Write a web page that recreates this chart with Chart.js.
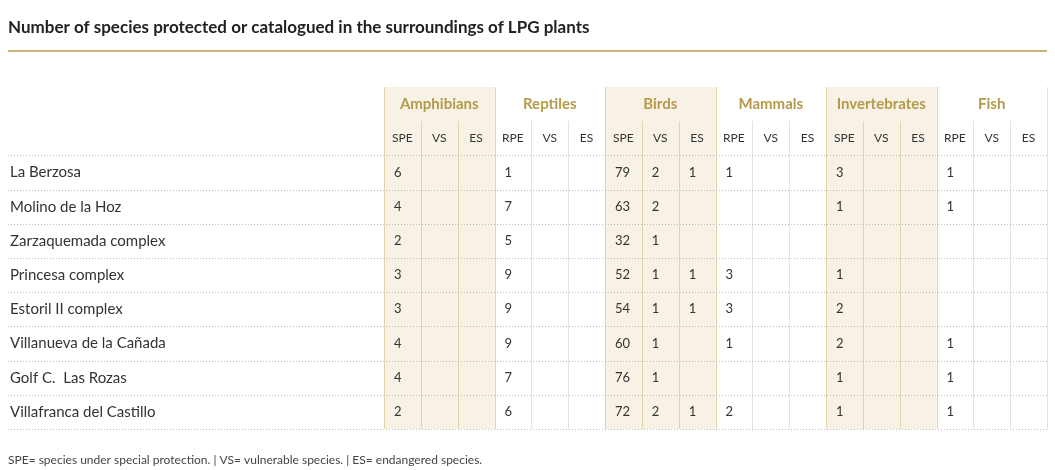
<!DOCTYPE html>
<html><head><meta charset="utf-8">
<script src="https://cdn.jsdelivr.net/npm/chart.js@4/dist/chart.umd.min.js"></script>
<style>body{margin:0;background:#fff}</style>
</head><body>
<canvas id="myChart" width="1055" height="470"></canvas>
<script>
const title = 'Number of species protected or catalogued in the surroundings of LPG plants';
const footnote = 'SPE= species under special protection. | VS= vulnerable species. | ES= endangered species.';
const groups = ['Amphibians', 'Reptiles', 'Birds', 'Mammals', 'Invertebrates', 'Fish'];
const shadedGroups = [true, false, true, false, true, false];
const subLabels = ['SPE','VS','ES','RPE','VS','ES','SPE','VS','ES','RPE','VS','ES','SPE','VS','ES','RPE','VS','ES'];
const places = ['La Berzosa', 'Molino de la Hoz', 'Zarzaquemada complex', 'Princesa complex', 'Estoril II complex', 'Villanueva de la Cañada', 'Golf C.  Las Rozas', 'Villafranca del Castillo'];
const values = [
  ['6','','', '1','','', '79','2','1', '1','','', '3','','', '1','',''],
  ['4','','', '7','','', '63','2','',  '','','',  '1','','', '1','',''],
  ['2','','', '5','','', '32','1','',  '','','',  '','','',  '','',''],
  ['3','','', '9','','', '52','1','1', '3','','', '1','','', '','',''],
  ['3','','', '9','','', '54','1','1', '3','','', '2','','', '','',''],
  ['4','','', '9','','', '60','1','',  '1','','', '2','','', '1','',''],
  ['4','','', '7','','', '76','1','',  '','','',  '1','','', '1','',''],
  ['2','','', '6','','', '72','2','1', '2','','', '1','','', '1','','']
];

const gold = '#b59a4a';
const shade = '#f8f2e6';
const textCol = '#333';
const font = 'Lato, "Open Sans", sans-serif';

const tablePlugin = {
  id: 'table',
  afterDraw(chart) {
    const c = chart.ctx, x = chart.scales.x, y = chart.scales.y;
    const X = i => x.getPixelForValue(i), Y = j => y.getPixelForValue(j);
    c.save();
    // title + rule
    c.fillStyle = '#222'; c.font = 'bold 17px ' + font; c.textBaseline = 'middle'; c.textAlign = 'left';
    c.fillText(title, 8, 28);
    c.strokeStyle = gold; c.lineWidth = 1.5;
    c.beginPath(); c.moveTo(8, 51); c.lineTo(1047, 51); c.stroke();
    // shaded groups
    groups.forEach((g, k) => {
      if (!shadedGroups[k]) return;
      c.fillStyle = shade;
      c.fillRect(X(k*3), Y(0), X(k*3+3) - X(k*3), Y(10) - Y(0));
    });
    // vertical lines
    c.lineWidth = 1;
    for (let i = 0; i <= 18; i++) {
      const g = Math.min(Math.floor(i/3), 5);
      const edge = i % 3 === 0;
      const inShade = shadedGroups[g] || (edge && i > 0 && shadedGroups[Math.floor((i-1)/3)]);
      c.strokeStyle = inShade ? '#e2d3a8' : '#e4e4e4';
      const top = edge ? Y(0) : Y(1);
      c.beginPath(); c.moveTo(Math.round(X(i)) + 0.5, top); c.lineTo(Math.round(X(i)) + 0.5, Y(10)); c.stroke();
    }
    // horizontal dotted lines
    c.setLineDash([1, 2]); c.strokeStyle = '#bbb';
    for (let j = 2; j <= 10; j++) {
      const yy = Math.round(Y(j)) + 0.5;
      c.beginPath(); c.moveTo(8, yy); c.lineTo(1047, yy); c.stroke();
    }
    c.setLineDash([]);
    // group headers
    c.textAlign = 'center'; c.font = 'bold 15px ' + font; c.fillStyle = gold;
    groups.forEach((g, k) => c.fillText(g, (X(k*3) + X(k*3+3)) / 2, (Y(0) + Y(1)) / 2));
    // sub labels
    c.font = '12px ' + font; c.fillStyle = textCol;
    subLabels.forEach((s, i) => c.fillText(s, (X(i) + X(i+1)) / 2, (Y(1) + Y(2)) / 2));
    // rows
    c.textAlign = 'left';
    places.forEach((p, r) => {
      const yc = (Y(r+2) + Y(r+3)) / 2;
      c.font = '15px ' + font;
      c.fillText(p, 10, yc);
      c.font = '13px ' + font;
      values[r].forEach((v, i) => { if (v) c.fillText(v, X(i) + 10, yc); });
    });
    // footnote
    c.font = '12px ' + font; c.fillStyle = '#444';
    c.fillText(footnote, 8, 460);
    c.restore();
  }
};

new Chart(document.getElementById('myChart'), {
  type: 'scatter',
  data: { datasets: [{ data: [] }] },
  options: {
    responsive: false,
    animation: false,
    layout: { padding: { left: 384, right: 8, top: 87, bottom: 41 } },
    plugins: { legend: { display: false }, tooltip: { enabled: false } },
    scales: {
      x: { type: 'linear', min: 0, max: 18, display: false },
      y: { type: 'linear', min: 0, max: 10, reverse: true, display: false }
    }
  },
  plugins: [tablePlugin]
});
</script>
</body></html>
